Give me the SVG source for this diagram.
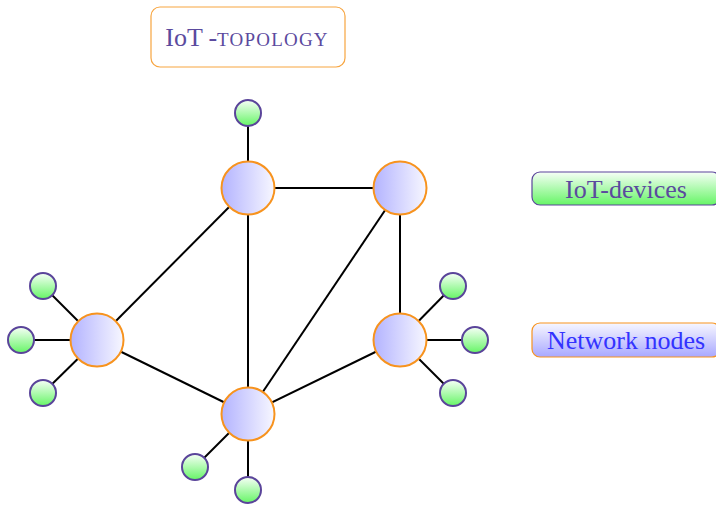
<svg xmlns="http://www.w3.org/2000/svg" width="716" height="506" viewBox="0 0 716 506">
<style>
.edge{stroke:#000;stroke-width:2;fill:none}
.net{fill:url(#gNet);stroke:#f7931e;stroke-width:2}
.dev{fill:url(#gDev);stroke:#5a449a;stroke-width:2}
.t{font-family:"Liberation Serif",serif;text-anchor:middle;dominant-baseline:central}
</style>
<defs>
<linearGradient id="gNet" x1="0" y1="0" x2="1" y2="0"><stop offset="0" stop-color="#b3b3ff"/><stop offset="1" stop-color="#f7f7ff"/></linearGradient>
<linearGradient id="gDev" x1="0" y1="0" x2="0" y2="1"><stop offset="0" stop-color="#f7fff7"/><stop offset="1" stop-color="#66f566"/></linearGradient>
<linearGradient id="gLegNet" x1="0" y1="0" x2="0" y2="1"><stop offset="0" stop-color="#f7f7ff"/><stop offset="1" stop-color="#a8a8ff"/></linearGradient>
<linearGradient id="gLegDev" x1="0" y1="0" x2="0" y2="1"><stop offset="0" stop-color="#f7fff7"/><stop offset="1" stop-color="#66f566"/></linearGradient>
</defs>
<g id="title">
<rect x="151" y="7" width="194" height="60" rx="9" fill="#fff" stroke="#f7a540" stroke-width="1.2"/>
<text x="247" y="46" font-family="'Liberation Serif',serif" text-anchor="middle" font-size="26" fill="#5b4a9e">IoT<tspan dx="8">-</tspan><tspan font-size="19" letter-spacing="1.2">TOPOLOGY</tspan></text>
</g>
<g id="connectors">
<line class="edge" x1="248" y1="188" x2="400" y2="188"/>
<line class="edge" x1="248" y1="188" x2="97" y2="340"/>
<line class="edge" x1="248" y1="188" x2="248" y2="414"/>
<line class="edge" x1="400" y1="188" x2="248" y2="414"/>
<line class="edge" x1="400" y1="188" x2="400" y2="340"/>
<line class="edge" x1="97" y1="340" x2="248" y2="414"/>
<line class="edge" x1="400" y1="340" x2="248" y2="414"/>
<line class="edge" x1="248" y1="188" x2="248" y2="113"/>
<line class="edge" x1="97" y1="340" x2="43" y2="286"/>
<line class="edge" x1="97" y1="340" x2="21" y2="340"/>
<line class="edge" x1="97" y1="340" x2="43" y2="393"/>
<line class="edge" x1="400" y1="340" x2="453" y2="286"/>
<line class="edge" x1="400" y1="340" x2="475" y2="340"/>
<line class="edge" x1="400" y1="340" x2="453" y2="393"/>
<line class="edge" x1="248" y1="414" x2="195" y2="467"/>
<line class="edge" x1="248" y1="414" x2="248" y2="490"/>
</g>
<g id="net-top"><circle class="net" cx="248" cy="188" r="26.5"/></g>
<g id="net-topright"><circle class="net" cx="400" cy="188" r="26.5"/></g>
<g id="net-left"><circle class="net" cx="97" cy="340" r="26.5"/></g>
<g id="net-right"><circle class="net" cx="400" cy="340" r="26.5"/></g>
<g id="net-bottom"><circle class="net" cx="248" cy="414" r="26.5"/></g>
<g id="dev-top"><circle class="dev" cx="248" cy="113" r="13"/></g>
<g id="dev-left1"><circle class="dev" cx="43" cy="286" r="13"/></g>
<g id="dev-left2"><circle class="dev" cx="21" cy="340" r="13"/></g>
<g id="dev-left3"><circle class="dev" cx="43" cy="393" r="13"/></g>
<g id="dev-right1"><circle class="dev" cx="453" cy="286" r="13"/></g>
<g id="dev-right2"><circle class="dev" cx="475" cy="340" r="13"/></g>
<g id="dev-right3"><circle class="dev" cx="453" cy="393" r="13"/></g>
<g id="dev-bottom1"><circle class="dev" cx="195" cy="467" r="13"/></g>
<g id="dev-bottom2"><circle class="dev" cx="248" cy="490" r="13"/></g>
<g id="legend-devices">
<rect x="532" y="172" width="188" height="33" rx="8" fill="url(#gLegDev)" stroke="#5a449a" stroke-width="1.2"/>
<text class="t" x="626" y="189" font-size="26" fill="#5b4a9e">IoT-devices</text>
</g>
<g id="legend-network">
<rect x="532" y="323" width="188" height="34" rx="8" fill="url(#gLegNet)" stroke="#f7931e" stroke-width="1.2"/>
<text class="t" x="626" y="340" font-size="26" fill="#3333ff">Network nodes</text>
</g>
</svg>
